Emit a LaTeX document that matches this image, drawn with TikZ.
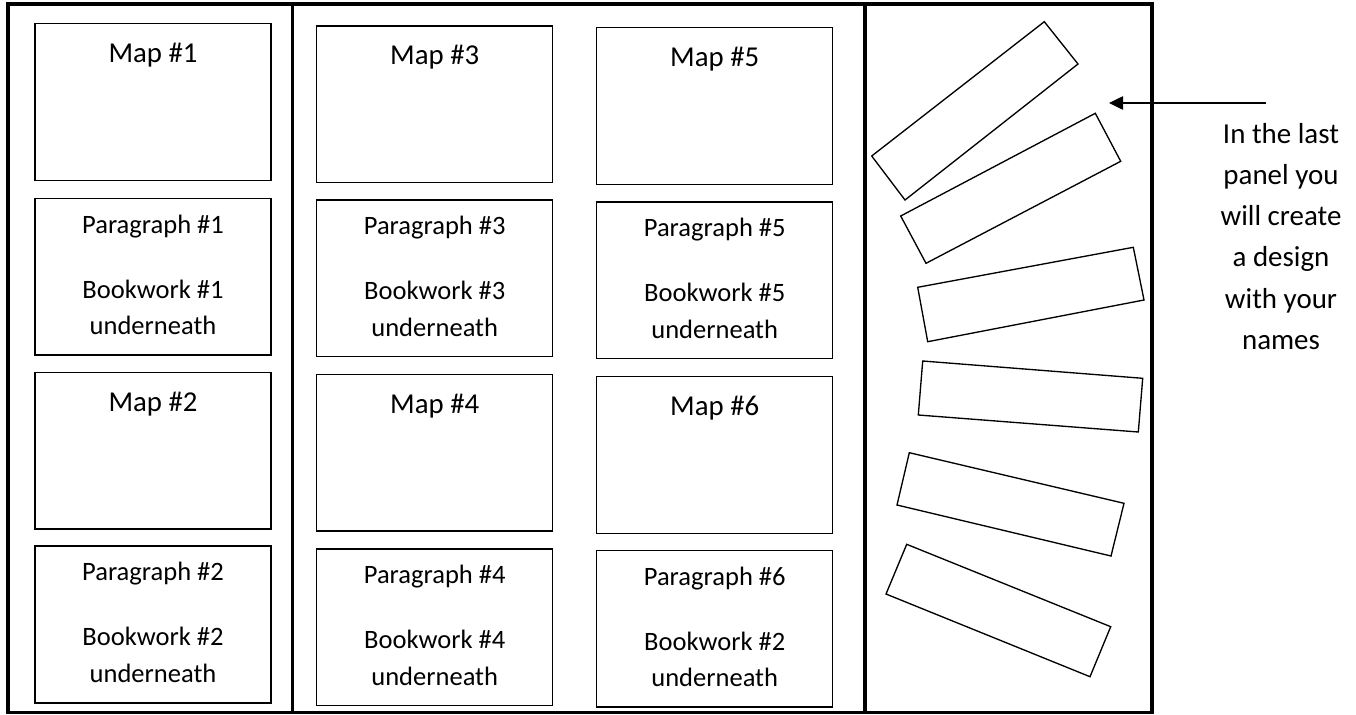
\documentclass[tikz,border=0pt]{standalone}
\usepackage{fontspec}
\setmainfont{Carlito}
\usetikzlibrary{calc,arrows.meta}
\tikzset{
  panelframe/.style={line width=2.3pt},
  box/.style={draw, line width=1.1pt, minimum width=177pt, minimum height=117.5pt, inner sep=0pt},
  maptext/.style={anchor=base, inner sep=0pt, font=\fontsize{21.6pt}{26pt}\selectfont},
  partext/.style={anchor=base, inner sep=0pt, font=\fontsize{19.9pt}{24pt}\selectfont},
  sidetext/.style={anchor=base, inner sep=0pt, font=\fontsize{21.7pt}{26pt}\selectfont},
  namebar/.style={line width=1pt, line join=miter},
  pointer/.style={line width=1.1pt, -{Triangle[length=10.5pt,width=10pt]}}
}
\newcommand{\mapboxdraw}[4]{% name, x, y, label
  \node[box] (#1) at (#2,#3) {};
  \node[maptext] (#1t) at ($(#1.north)+(0,39.5)$) {#4};
}
\newcommand{\paraboxdraw}[5]{% name, x, y, para, book
  \node[box] (#1) at (#2,#3) {};
  \node[partext] (#1a) at ($(#1.north)+(0,35.5)$) {Paragraph \##4};
  \node[partext] (#1b) at ($(#1.north)+(0,100.5)$) {Bookwork \##5};
  \node[partext] (#1c) at ($(#1.north)+(0,137)$) {underneath};
}
\begin{document}
\begin{tikzpicture}[x=0.75pt,y=-0.75pt]
\useasboundingbox (0,0) rectangle (1356,714);
% outer frame and panel dividers
\draw[panelframe] (8,4) rectangle (1152,712.5);
\draw[panelframe] (292.7,4) -- (292.7,712.5);
\draw[panelframe] (865,4) -- (865,712.5);
% column 1
\mapboxdraw{m1}{153}{102}{Map \#1}
\paraboxdraw{p1}{153}{276.7}{1}{1}
\mapboxdraw{m2}{153}{450.8}{Map \#2}
\paraboxdraw{p2}{153}{624.5}{2}{2}
% column 2
\mapboxdraw{m3}{434.7}{104.2}{Map \#3}
\paraboxdraw{p3}{434.7}{278.3}{3}{3}
\mapboxdraw{m4}{434.7}{452.8}{Map \#4}
\paraboxdraw{p4}{434.7}{627.3}{4}{4}
% column 3
\mapboxdraw{m5}{714.7}{106}{Map \#5}
\paraboxdraw{p5}{714.7}{280.3}{5}{5}
\mapboxdraw{m6}{714.7}{455}{Map \#6}
\paraboxdraw{p6}{714.7}{628.7}{6}{2}
% name bars in the last panel
\draw[namebar] (1044.3,21.7) -- (1078,64) -- (905,200) -- (871.7,156) -- cycle;
\draw[namebar] (1095.3,113.3) -- (1120.7,161.3) -- (926,263.3) -- (900.7,216) -- cycle;
\draw[namebar] (1133.3,247.3) -- (1144,300) -- (927.7,341.7) -- (917.7,287.3) -- cycle;
\draw[namebar] (922.7,361) -- (1142.7,378.3) -- (1138.3,432) -- (918.3,415) -- cycle;
\draw[namebar] (909.3,452.7) -- (1124,503.3) -- (1111,556) -- (897,505) -- cycle;
\draw[namebar] (906.7,544.3) -- (1110.7,626.7) -- (1090,676.7) -- (886,594) -- cycle;
% pointer and caption
\coordinate (ptrstart) at (1266,103);
\coordinate (ptrend) at (1109,103);
\draw[pointer] (ptrstart) -- (ptrend);
\node[sidetext] (s1) at (1281,143.3) {In the last};
\node[sidetext] (s2) at (1281,184.5) {panel you};
\node[sidetext] (s3) at (1281,225.7) {will create};
\node[sidetext] (s4) at (1281,266.9) {a design};
\node[sidetext] (s5) at (1281,308.1) {with your};
\node[sidetext] (s6) at (1281,349.3) {names};
\end{tikzpicture}
\end{document}
